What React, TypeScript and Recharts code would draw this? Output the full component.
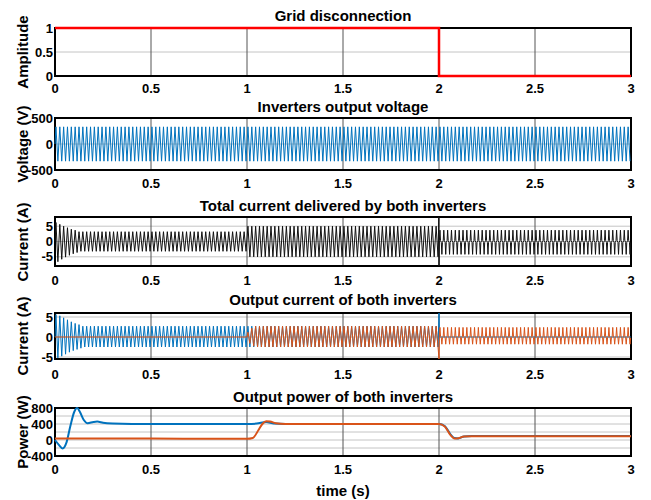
import React from 'react'
import { LineChart, Line, XAxis, YAxis, CartesianGrid, ReferenceArea } from 'recharts'

const FONT = '"Liberation Sans", Arial, Helvetica, sans-serif'
const BLUE = '#0072BD'
const ORANGE = '#D95319'

// 50 Hz grid -> one peak every half period
const HALF_PERIOD = 0.01
const CYCLE = 0.02

const timeTicks = [0, 0.5, 1, 1.5, 2, 2.5, 3]

// grid disconnection signal (step down at t = 2 s)
const gridTimes = [0, 2, 2, 3]
const gridValues = [1, 1, 0, 0]

// inverter output voltage: steady peaks over the whole run
const voltageRuns: [number, number, number, number][] = [[0, 3, 330, -330]]

// total current: start-up transient peaks, then steady runs
const totalStartPeaks = [6.2, -6.6, 5.6, -5.8, 5.0, -5.1, 4.5, -4.5, 4.0, -4.0, 3.7, -3.6]
const totalRuns: [number, number, number, number][] = [
  [0.12, 1, 3.2, -3.2],
  [1, 2, 5, -5],
]
// islanded operation: narrow current pulses each cycle
const pulseOffsets = [0, 0.003, 0.006, 0.01, 0.013, 0.016]
const totalPulseValues = [0.3, 3.7, 0.3, -0.3, -4.2, -0.3]

// inverter 1 current (blue)
const inv1StartPeaks = [5.6, -5.2, 5.3, -4.8, 4.8, -4.3, 4.3, -3.8, 3.8, -3.4, 3.4, -3.1, 3.1, -2.8]
const inv1Runs: [number, number, number, number][] = [[0.14, 2, 2.7, -2.5]]
const inv1Spike = 6

// inverter 2 current (orange)
const inv2StartPeaks = [1.2, -1.6, 2.2, -2.3]
const inv2Runs: [number, number, number, number][] = [[1.04, 2, 2.7, -2.5]]
const inv2Spike = -5.5
const inv2PulseValues = [0.2, 2.4, 0.2, -0.2, -1.8, -0.2]

// output power of both inverters
const power1Times = [0, 0.02, 0.04, 0.06, 0.08, 0.1, 0.115, 0.13, 0.15, 0.17, 0.2, 0.22, 0.25, 0.3, 0.4, 1.0, 1.05, 1.1, 1.14, 1.2, 2.0, 2.03, 2.06, 2.08, 2.1, 2.13, 2.17, 3]
const power1Values = [0, -120, -210, -60, 350, 700, 800, 700, 500, 420, 450, 460, 430, 410, 400, 400, 410, 450, 410, 400, 400, 350, 140, 50, 40, 90, 100, 100]
const power2Times = [0, 0.5, 1.0, 1.03, 1.06, 1.08, 1.1, 1.12, 1.15, 1.2, 2.0, 2.03, 2.06, 2.08, 2.1, 2.13, 2.17, 3]
const power2Values = [40, 35, 30, 50, 250, 400, 470, 460, 420, 400, 400, 340, 120, 40, 45, 90, 95, 95]

type Pt = { t: number; v: number }

function zip(times: number[], values: number[]): Pt[] {
  return times.map((t, i) => ({ t, v: values[i] }))
}

// one alternating peak per half period across a run
function runPeaks([start, end, pos, neg]: [number, number, number, number]): Pt[] {
  const out: Pt[] = []
  for (let k = 0; start + (k + 0.5) * HALF_PERIOD < end; k++) {
    out.push({ t: start + (k + 0.5) * HALF_PERIOD, v: k % 2 === 0 ? pos : neg })
  }
  return out
}

function listedPeaks(start: number, peaks: number[]): Pt[] {
  return peaks.map((v, k) => ({ t: start + (k + 0.5) * HALF_PERIOD, v }))
}

function pulses(start: number, end: number, values: number[]): Pt[] {
  const out: Pt[] = []
  for (let c = 0; start + c * CYCLE < end; c++) {
    pulseOffsets.forEach((o, i) => {
      const t = start + c * CYCLE + o
      if (t <= end) out.push({ t, v: values[i] })
    })
  }
  return out
}

const gridData = zip(gridTimes, gridValues)

const voltageData: Pt[] = [{ t: 0, v: 0 }, ...voltageRuns.flatMap(runPeaks)]

const totalData: Pt[] = [
  { t: 0, v: 0 },
  ...listedPeaks(0, totalStartPeaks),
  ...totalRuns.flatMap(runPeaks),
  { t: 1.999, v: 8 },
  { t: 2.0, v: -8 },
  ...pulses(2.002, 3, totalPulseValues),
]

const inv1Data: Pt[] = [
  { t: 0, v: 0 },
  ...listedPeaks(0, inv1StartPeaks),
  ...inv1Runs.flatMap(runPeaks),
  { t: 2.0, v: inv1Spike },
  { t: 2.003, v: 0 },
  { t: 3, v: 0 },
]

const inv2Data: Pt[] = [
  { t: 0, v: 0 },
  { t: 1, v: 0 },
  ...listedPeaks(1, inv2StartPeaks),
  ...inv2Runs.flatMap(runPeaks),
  { t: 2.0, v: inv2Spike },
  ...pulses(2.002, 3, inv2PulseValues),
]

const power1Data = zip(power1Times, power1Values)
const power2Data = zip(power2Times, power2Values)

const tickStyle = { fill: '#000', fontSize: 13, fontWeight: 'bold', fontFamily: FONT }

interface PanelProps {
  plotTop: number
  plotBottom: number
  titleY: number
  title: string
  yLabel: string
  domain: [number, number]
  ticks: number[]
  tickGap: number
  tickFormatter?: (v: number) => string
  children: React.ReactNode
}

function Panel({ plotTop, plotBottom, titleY, title, yLabel, domain, ticks, tickGap, tickFormatter, children }: PanelProps) {
  const top = plotTop - 10
  const height = plotBottom - plotTop + 35
  return (
    <>
      <div
        style={{
          position: 'absolute',
          left: 55,
          width: 576,
          top: titleY - 10,
          lineHeight: '20px',
          textAlign: 'center',
          font: `bold 15px ${FONT}`,
          color: '#000',
        }}
      >
        {title}
      </div>
      <div
        style={{
          position: 'absolute',
          left: 22,
          top: (plotTop + plotBottom) / 2,
          transform: 'translate(-50%, -50%) rotate(-90deg)',
          whiteSpace: 'nowrap',
          font: `bold 15px ${FONT}`,
          color: '#000',
        }}
      >
        {yLabel}
      </div>
      <div style={{ position: 'absolute', left: 0, top }}>
        <LineChart width={651} height={height} margin={{ top: 10, right: 20, bottom: 0, left: 0 }}>
          <CartesianGrid vertical={false} stroke="#c4c4c4" />
          <CartesianGrid horizontal={false} stroke="#555" />
          <XAxis
            type="number"
            dataKey="t"
            domain={[0, 3]}
            ticks={timeTicks}
            interval={0}
            height={25}
            tickSize={0}
            tickMargin={tickGap}
            axisLine={false}
            tick={tickStyle}
          />
          <YAxis
            type="number"
            domain={domain}
            ticks={ticks}
            interval={0}
            width={55}
            tickSize={0}
            tickMargin={2}
            axisLine={false}
            tickFormatter={tickFormatter}
            tick={tickStyle}
          />
          {children}
          <ReferenceArea
            x1={0}
            x2={3}
            y1={domain[0]}
            y2={domain[1]}
            fill="none"
            fillOpacity={0}
            stroke="#000"
            strokeWidth={2}
          />
        </LineChart>
      </div>
    </>
  )
}

export default function App() {
  return (
    <div style={{ position: 'absolute', left: 0, top: 0, width: 651, height: 500, background: '#fff' }}>
      <Panel plotTop={28} plotBottom={76} titleY={17} title="Grid disconnection" yLabel="Amplitude"
        domain={[0, 1]} ticks={[0, 0.5, 1]} tickGap={8}>
        <Line data={gridData} dataKey="v" type="linear" stroke="#ff0000" strokeWidth={2.5} dot={false} isAnimationActive={false} />
      </Panel>

      <Panel plotTop={118} plotBottom={170} titleY={108} title="Inverters output voltage" yLabel="Voltage (V)"
        domain={[-500, 500]} ticks={[-500, 0, 500]} tickGap={9}>
        <Line data={voltageData} dataKey="v" type="linear" stroke={BLUE} strokeWidth={1} dot={false} isAnimationActive={false} />
      </Panel>

      <Panel plotTop={217} plotBottom={266} titleY={207} title="Total current delivered by both inverters" yLabel="Current (A)"
        domain={[-8, 8]} ticks={[-5, 0, 5]} tickGap={10}>
        <Line data={totalData} dataKey="v" type="linear" stroke="#111" strokeWidth={1} dot={false} isAnimationActive={false} />
      </Panel>

      <Panel plotTop={313} plotBottom={359} titleY={301} title="Output current of both inverters" yLabel="Current (A)"
        domain={[-5.5, 6]} ticks={[-5, 0, 5]} tickGap={11}>
        <Line data={inv1Data} dataKey="v" type="linear" stroke={BLUE} strokeWidth={1} dot={false} isAnimationActive={false} />
        <Line data={inv2Data} dataKey="v" type="linear" stroke={ORANGE} strokeWidth={1} dot={false} isAnimationActive={false} />
      </Panel>

      <Panel plotTop={408} plotBottom={456} titleY={398} title="Output power of both inverters" yLabel="Power (W)"
        domain={[-400, 800]} ticks={[-400, -200, 0, 200, 400, 600, 800]} tickGap={9}
        tickFormatter={(v) => (v % 400 === 0 ? String(v) : '')}>
        <Line data={power1Data} dataKey="v" type="monotone" stroke={BLUE} strokeWidth={2} dot={false} isAnimationActive={false} />
        <Line data={power2Data} dataKey="v" type="monotone" stroke={ORANGE} strokeWidth={2} dot={false} isAnimationActive={false} />
      </Panel>

      <div
        style={{
          position: 'absolute',
          left: 55,
          width: 576,
          top: 482,
          lineHeight: '20px',
          textAlign: 'center',
          font: `bold 15px ${FONT}`,
          color: '#000',
        }}
      >
        time (s)
      </div>
    </div>
  )
}
